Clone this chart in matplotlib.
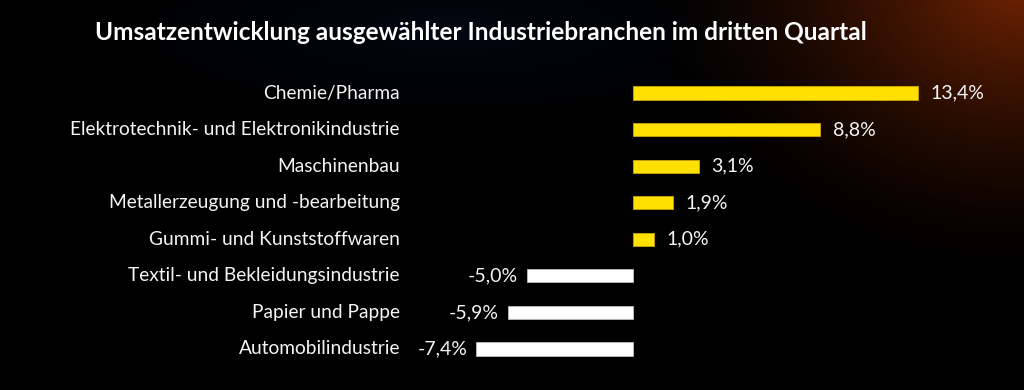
import matplotlib
matplotlib.use("Agg")
import matplotlib.pyplot as plt
import numpy as np

categories = [
    "Chemie/Pharma",
    "Elektrotechnik- und Elektronikindustrie",
    "Maschinenbau",
    "Metallerzeugung und -bearbeitung",
    "Gummi- und Kunststoffwaren",
    "Textil- und Bekleidungsindustrie",
    "Papier und Pappe",
    "Automobilindustrie",
]
values = [13.4, 8.8, 3.1, 1.9, 1.0, -5.0, -5.9, -7.4]
title = "Umsatzentwicklung ausgewählter Industriebranchen im dritten Quartal"

plt.rcParams["font.family"] = ["Lato", "DejaVu Sans"]

fig = plt.figure(figsize=(10.24, 3.9), dpi=100)

# background: black with a faint blue haze and an orange glow top right
bg = fig.add_axes([0, 0, 1, 1])
h, w = 390, 1024
yy, xx = np.mgrid[0:h, 0:w]
img = np.zeros((h, w, 3))
d_orange = np.sqrt(((xx - 1024) / 380.0) ** 2 + ((yy + 20) / 300.0) ** 2)
glow = np.clip(1 - d_orange, 0, 1) ** 1.5
img[..., 0] += 0.45 * glow
img[..., 1] += 0.14 * glow
img[..., 2] += 0.01 * glow
d_blue = np.sqrt(((xx - 450) / 450.0) ** 2 + ((yy - 30) / 120.0) ** 2)
haze = np.clip(1 - d_blue, 0, 1) ** 2
img[..., 0] += 0.01 * haze
img[..., 1] += 0.03 * haze
img[..., 2] += 0.07 * haze
bg.imshow(np.clip(img, 0, 1), aspect="auto", extent=[0, 1, 0, 1])
bg.axis("off")

ax = fig.add_axes([0, 0, 1, 1])
ax.patch.set_alpha(0)
scale = 21.27  # pixels per percent point
ax.set_xlim(-633 / scale, (1024 - 633) / scale)
ax.set_ylim((390 - 93) / 36.57, -93 / 36.57)
ax.axis("off")

y = np.arange(len(categories))
colors = ["#FFE000" if v > 0 else "#FFFFFF" for v in values]
edges = ["#C9A800" if v > 0 else "#BBBBBB" for v in values]
ax.barh(y, values, height=0.36, color=colors, edgecolor=edges, linewidth=0.6)

for i, (c, v) in enumerate(zip(categories, values)):
    ax.text(400 / 1024, i, c, transform=ax.get_yaxis_transform(),
            ha="right", va="center", color="#F4F4F4", fontsize=13.8)
    lab = f"{v:.1f}%".replace(".", ",")
    if v > 0:
        ax.annotate(lab, (v, i), xytext=(9, 0), textcoords="offset points",
                    ha="left", va="center", color="#F4F4F4", fontsize=14)
    else:
        ax.annotate(lab, (v, i), xytext=(-6, 0), textcoords="offset points",
                    ha="right", va="center", color="#F4F4F4", fontsize=14)

fig.text(95 / 1024, 1 - 33 / 390, title, ha="left", va="center",
         color="white", fontsize=17.6, fontweight="bold")

plt.savefig("out.png", dpi=100)
plt.close()
